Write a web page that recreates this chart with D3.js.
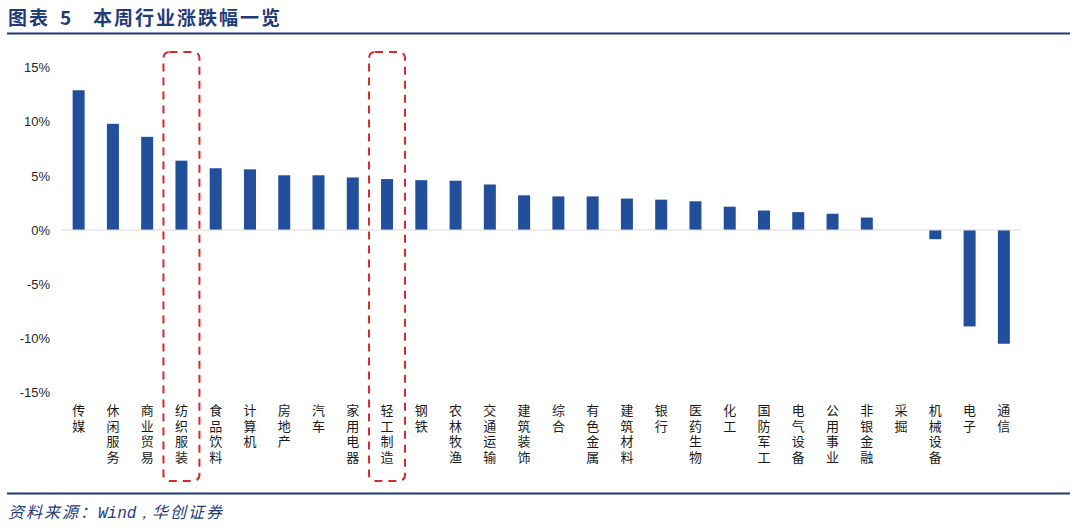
<!DOCTYPE html>
<html>
<head>
<meta charset="utf-8">
<script src="https://cdn.jsdelivr.net/npm/d3@7/dist/d3.min.js"></script>
<style>
  body { margin: 0; background: #fff; }
  svg { display: block; }
</style>
</head>
<body>
<div id="chart"></div>
<script>
// industries and weekly change (%)
var industries = ["传媒", "休闲服务", "商业贸易", "纺织服装", "食品饮料", "计算机", "房地产", "汽车",
  "家用电器", "轻工制造", "钢铁", "农林牧渔", "交通运输", "建筑装饰", "综合", "有色金属", "建筑材料",
  "银行", "医药生物", "化工", "国防军工", "电气设备", "公用事业", "非银金融", "采掘", "机械设备", "电子", "通信"];
var changes = [12.9, 9.8, 8.6, 6.4, 5.7, 5.6, 5.05, 5.05, 4.85, 4.7, 4.6, 4.55, 4.2, 3.2, 3.1, 3.1, 2.9,
  2.8, 2.65, 2.15, 1.8, 1.65, 1.5, 1.15, 0, -0.85, -8.9, -10.5];
var yTicks = [15, 10, 5, 0, -5, -10, -15];
var highlighted = ["纺织服装", "轻工制造"];

var svgWidth = 1080;
var svgHeight = 528;
var navy = "#1F3B7A";

var svg = d3.select("#chart")
  .append("svg")
  .attr("width", svgWidth)
  .attr("height", svgHeight);

// title + rule
var title = svg.append("text")
  .attr("y", 25)
  .attr("fill", navy)
  .style("font-family", "'Noto Sans CJK SC', sans-serif")
  .style("font-size", "19px")
  .style("font-weight", "bold")
  .style("letter-spacing", "2px");
title.append("tspan").attr("x", 8).text("图表");
title.append("tspan").attr("x", 60).text("5");
title.append("tspan").attr("x", 93).text("本周行业涨跌幅一览");

svg.append("line")
  .attr("x1", 7).attr("x2", 1070)
  .attr("y1", 33.5).attr("y2", 33.5)
  .attr("stroke", navy)
  .attr("stroke-width", 2);

// scales
var x = d3.scaleBand()
  .domain(industries)
  .range([61.5, 1021])
  .paddingInner(0.65)
  .paddingOuter(0.325);

var y = d3.scaleLinear()
  .domain([-15, 15])
  .range([392.5, 67.5]);

// y axis labels (no axis line)
var leftAxis = d3.axisLeft(y)
  .tickValues(yTicks)
  .tickFormat(d => d + "%")
  .tickSize(0)
  .tickPadding(0);

var yAxisG = svg.append("g")
  .attr("transform", "translate(50,0)")
  .call(leftAxis);
yAxisG.select(".domain").remove();
yAxisG.selectAll("text")
  .attr("fill", "#262626")
  .style("font-family", "'Liberation Sans', Arial, sans-serif")
  .style("font-size", "13px");

// bars
svg.append("g")
  .selectAll("rect")
  .data(industries)
  .enter()
  .append("rect")
  .attr("x", d => x(d))
  .attr("width", x.bandwidth())
  .attr("y", (d, i) => y(Math.max(0, changes[i])))
  .attr("height", (d, i) => Math.abs(y(changes[i]) - y(0)))
  .attr("fill", "#214F9C");

// zero line
svg.append("line")
  .attr("x1", x.range()[0]).attr("x2", x.range()[1])
  .attr("y1", y(0)).attr("y2", y(0))
  .attr("stroke", "#D9D9D9")
  .attr("stroke-width", 1);

// vertical category labels (top-to-bottom writing)
svg.append("g")
  .selectAll("text")
  .data(industries)
  .enter()
  .append("text")
  .attr("x", d => x(d) + x.bandwidth() / 2)
  .attr("y", 404)
  .attr("fill", "#1a1a1a")
  .style("writing-mode", "vertical-rl")
  .style("font-family", "'Noto Sans CJK SC', sans-serif")
  .style("font-size", "13px")
  .style("letter-spacing", "2.5px")
  .text(d => d);

// red dashed highlight boxes
svg.append("g")
  .selectAll("rect")
  .data(highlighted)
  .enter()
  .append("rect")
  .attr("x", d => x(d) + x.bandwidth() / 2 - 18)
  .attr("width", 36)
  .attr("y", 52)
  .attr("height", 429)
  .attr("rx", 6)
  .attr("fill", "none")
  .attr("stroke", "#D42A2A")
  .attr("stroke-width", 2)
  .attr("stroke-dasharray", "8,6");

// footer rule + source
svg.append("line")
  .attr("x1", 7).attr("x2", 1070)
  .attr("y1", 493.5).attr("y2", 493.5)
  .attr("stroke", navy)
  .attr("stroke-width", 2);

var source = svg.append("text")
  .attr("y", 518)
  .attr("fill", navy)
  .style("font-family", "'Noto Sans CJK SC', sans-serif")
  .style("font-size", "16px")
  .style("font-style", "italic");
source.append("tspan").attr("x", 8).style("letter-spacing", "2px").text("资料来源：");
source.append("tspan").attr("x", 98).style("font-family", "'Liberation Mono', monospace").text("Wind，");
source.append("tspan").attr("x", 152).style("letter-spacing", "2px").text("华创证券");
</script>
</body>
</html>
